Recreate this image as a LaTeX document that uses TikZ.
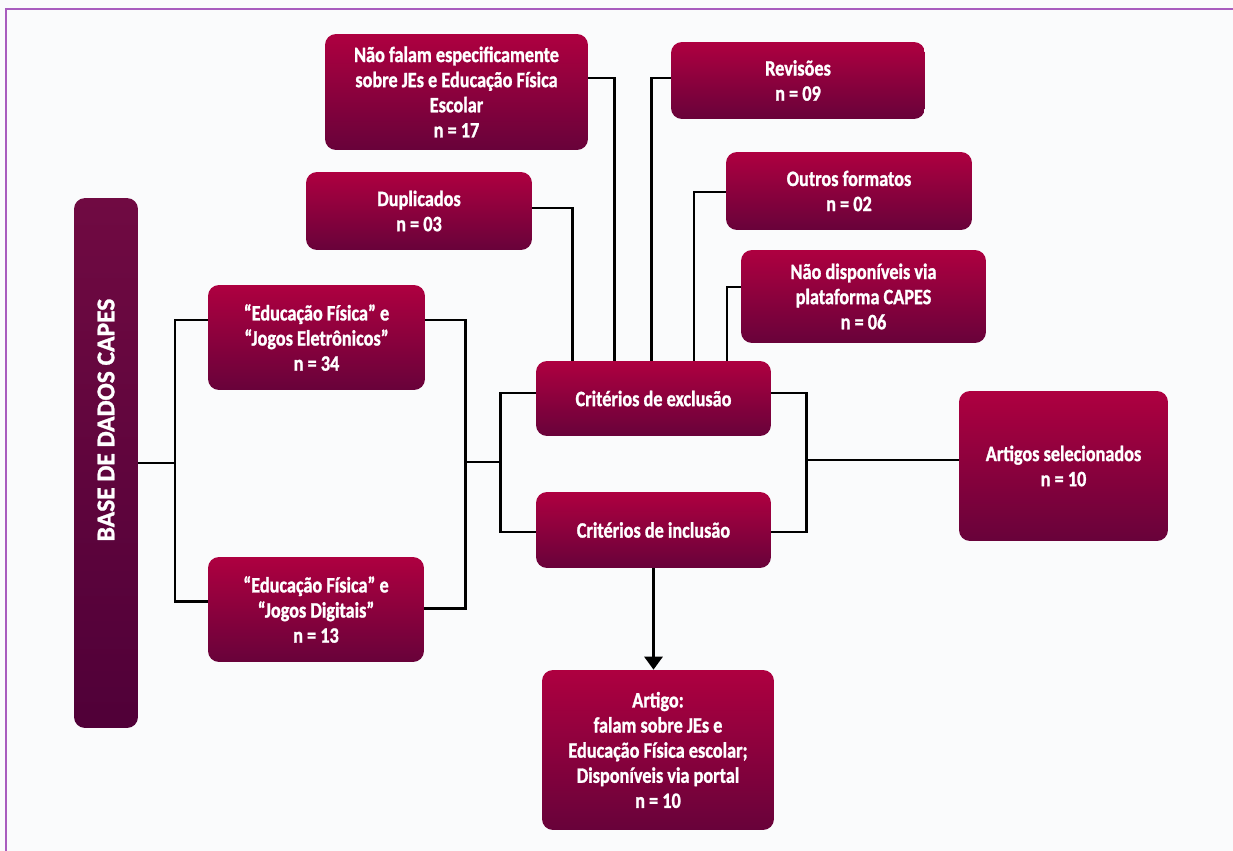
\documentclass[tikz,border=0pt]{standalone}
\usepackage{fontspec}
\setmainfont{Carlito}[FakeStretch=0.83, BoldFeatures={FakeBold=1.2}]
\newfontfamily\basefont{Carlito}[BoldFeatures={FakeBold=1.2}]
\usetikzlibrary{arrows.meta}
\definecolor{boxtop}{RGB}{174,0,64}
\definecolor{boxbot}{RGB}{104,2,58}
\definecolor{basetop}{RGB}{112,10,66}
\definecolor{basebot}{RGB}{80,0,56}
\definecolor{frame}{RGB}{168,92,190}
\definecolor{paper}{RGB}{250,251,252}
\begin{document}
\begin{tikzpicture}[x=0.02cm, y=-0.02cm,
  box/.style={rounded corners=0.22cm, top color=boxtop, bottom color=boxbot,
    text=white, align=center, inner sep=2pt,
    font=\fontsize{12.5}{14.3}\selectfont\bfseries},
  basebox/.style={box, top color=basetop, bottom color=basebot},
  link/.style={line width=1.7pt}]
  \fill[paper] (0,0) rectangle (1233,851);
  \useasboundingbox (0,0) rectangle (1233,851);
  \draw[frame, line width=1pt] (1233,9) -- (6,9) -- (6,851);

  % source and search strings
  \node[basebox, minimum width=1.28cm, minimum height=10.6cm] (base) at (106,463) {};
  \node[text=white, rotate=90, font=\basefont\fontsize{14.5}{16}\selectfont\bfseries]
    (basetxt) at ([yshift=0.86cm]base.center) {BASE DE DADOS CAPES};
  \node[box, minimum width=4.34cm, minimum height=2.1cm] (efje) at (316.5,337.5)
    {“Educação Física” e\\ “Jogos Eletrônicos”\\ n = 34};
  \node[box, minimum width=4.32cm, minimum height=2.1cm] (efjd) at (316,609.5)
    {“Educação Física” e\\ “Jogos Digitais”\\ n = 13};

  % criteria
  \node[box, minimum width=4.7cm, minimum height=1.5cm] (excl) at (653.5,398.5)
    {Critérios de exclusão};
  \node[box, minimum width=4.7cm, minimum height=1.52cm] (incl) at (653.5,530)
    {Critérios de inclusão};

  % excluded
  \node[box, minimum width=5.26cm, minimum height=2.32cm] (naofalam) at (456.5,92)
    {Não falam especificamente\\ sobre JEs e Educação Física\\ Escolar\\ n = 17};
  \node[box, minimum width=4.52cm, minimum height=1.56cm] (dup) at (419,211)
    {Duplicados\\ n = 03};
  \node[box, minimum width=5.08cm, minimum height=1.54cm] (rev) at (798,80.5)
    {Revisões\\ n = 09};
  \node[box, minimum width=4.92cm, minimum height=1.56cm] (outros) at (849,191)
    {Outros formatos\\ n = 02};
  \node[box, minimum width=4.9cm, minimum height=1.86cm] (naodisp) at (863.5,296.5)
    {Não disponíveis via\\ plataforma CAPES\\ n = 06};

  % results
  \node[box, minimum width=4.18cm, minimum height=3cm] (artsel) at (1063.5,466)
    {Artigos selecionados\\ n = 10};
  \node[box, minimum width=4.64cm, minimum height=3.2cm] (final) at (658,750)
    {Artigo:\\ falam sobre JEs e\\ Educação Física escolar;\\ Disponíveis via portal\\ n = 10};

  % connectors
  \coordinate (bus1) at (175,463);
  \coordinate (bus2) at (465,462);
  \coordinate (bus3) at (500,462);
  \coordinate (bus4) at (806,460);
  \draw[link] (base) -- (bus1);
  \draw[link] ([yshift=0.35cm]efje.west) -| (bus1) |- ([yshift=0.17cm]efjd.west);
  \draw[link] ([yshift=0.35cm]efje.east) -| (bus2) |- ([yshift=0.03cm]efjd.east);
  \draw[link] (bus2) -- (bus3);
  \draw[link] ([yshift=0.11cm]excl.west) -| (bus3) |- ([yshift=-0.04cm]incl.west);
  \draw[link] ([yshift=0.11cm]excl.east) -| (bus4) |- ([yshift=-0.04cm]incl.east);
  \draw[link] (bus4) -- (bus4 -| artsel.west);
  \draw[link] ([yshift=0.06cm]dup.east) -| ([xshift=-1.63cm]excl.north);
  \draw[link] ([yshift=0.28cm]naofalam.east) -| ([xshift=-0.79cm]excl.north);
  \draw[link] ([yshift=0.05cm]rev.west) -| ([xshift=-0.05cm]excl.north);
  \draw[link] ([yshift=-0.02cm]outros.west) -| ([xshift=0.81cm]excl.north);
  \draw[link] ([yshift=0.19cm]naodisp.west) -| ([xshift=1.47cm]excl.north);
  \draw[link, -{Triangle[width=0.36cm, length=0.26cm]}] (incl.south) -- (incl.south |- final.north);
\end{tikzpicture}
\end{document}
